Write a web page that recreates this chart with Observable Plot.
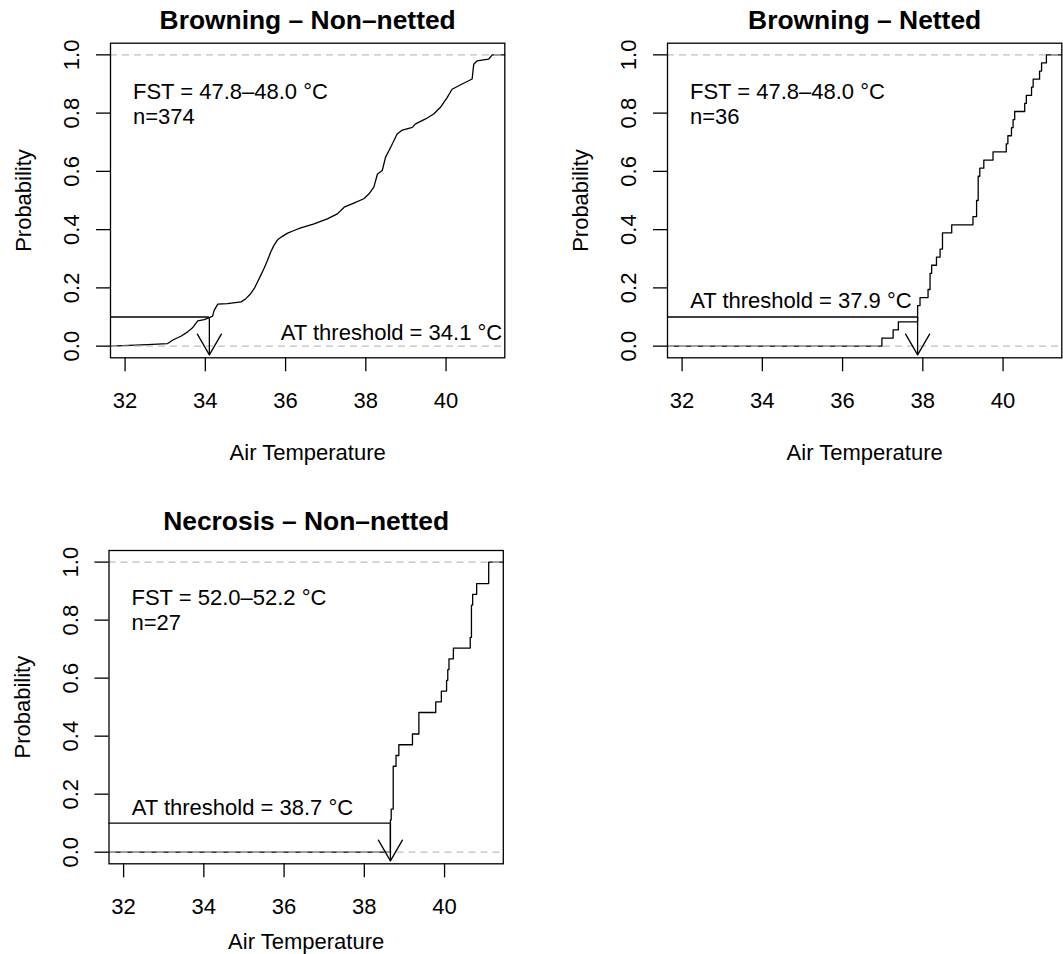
<!DOCTYPE html>
<html><head><meta charset="utf-8">
<script src="https://cdn.jsdelivr.net/npm/d3@7"></script>
<script src="https://cdn.jsdelivr.net/npm/@observablehq/plot@0.6"></script>
<style>
body{margin:0;background:#fff;}
#wrap{position:relative;width:1063px;height:954px;overflow:hidden;background:#fff;}
#wrap svg{position:absolute;}
</style></head><body><div id="wrap"></div>
<script>
// ---------- data ----------
const xTicks = [32, 34, 36, 38, 40];
const yTicks = [0, 0.2, 0.4, 0.6, 0.8, 1];
const yTickLabels = ["0.0", "0.2", "0.4", "0.6", "0.8", "1.0"];
const xLimits = [32, 41.1];
const yLimits = [0, 1];
const panelTitles = ["Browning – Non–netted", "Browning – Netted", "Necrosis – Non–netted"];
const fstLabels = ["FST = 47.8–48.0 °C", "FST = 47.8–48.0 °C", "FST = 52.0–52.2 °C"];
const nLabels = ["n=374", "n=36", "n=27"];
const thresholdLabels = ["AT threshold = 34.1 °C", "AT threshold = 37.9 °C", "AT threshold = 38.7 °C"];
const thresholdTemps = [34.10, 37.87, 38.65];
const thresholdProb = 0.1;
const arrowTipProb = -0.03;
const refLines = [0, 1];
const xLabel = "Air Temperature";
const yLabel = "Probability";

const browningNonNettedTemp = [32.56, 33.06, 33.19, 33.39, 33.56, 33.68, 33.81, 33.97, 34.10, 34.18, 34.22, 34.31, 34.55, 34.89, 35.01, 35.13, 35.22, 35.30, 35.38, 35.47, 35.55, 35.63, 35.71, 35.80, 35.92, 36.05, 36.21, 36.38, 36.71, 37.04, 37.29, 37.46, 37.70, 37.95, 38.08, 38.20, 38.29, 38.41, 38.49, 38.62, 38.78, 38.91, 39.16, 39.24, 39.49, 39.69, 39.86, 40.03, 40.15, 40.40, 40.65, 40.69, 40.77, 41.06, 41.15];
const browningNonNettedProb = [0.005, 0.009, 0.021, 0.034, 0.049, 0.063, 0.087, 0.091, 0.098, 0.103, 0.123, 0.144, 0.146, 0.152, 0.163, 0.180, 0.198, 0.220, 0.243, 0.269, 0.295, 0.323, 0.346, 0.365, 0.377, 0.388, 0.397, 0.406, 0.420, 0.437, 0.454, 0.477, 0.491, 0.506, 0.523, 0.546, 0.591, 0.603, 0.648, 0.683, 0.728, 0.742, 0.751, 0.763, 0.780, 0.797, 0.820, 0.854, 0.882, 0.900, 0.917, 0.968, 0.979, 0.985, 1.0];

// Browning – Netted (n=36): observed air temperatures
const browningNettedTemp = [36.98, 37.26, 37.39, 37.87, 37.87, 37.93, 38.13, 38.18, 38.18, 38.22, 38.34, 38.43, 38.49, 38.49, 38.72, 39.25, 39.34, 39.34, 39.38, 39.38, 39.38, 39.42, 39.52, 39.75, 40.08, 40.12, 40.21, 40.25, 40.29, 40.54, 40.58, 40.71, 40.75, 40.91, 40.96, 41.08];

// Necrosis – Non-netted (n=27): observed air temperatures
const necrosisNonNettedTemp = [38.65, 38.65, 38.65, 38.67, 38.72, 38.72, 38.72, 38.72, 38.79, 38.86, 39.20, 39.36, 39.36, 39.78, 39.92, 40.05, 40.08, 40.11, 40.22, 40.64, 40.67, 40.67, 40.67, 40.70, 40.80, 41.10, 41.10];

// ---------- layout ----------
const FONT = '"Liberation Sans", Arial, Helvetica, sans-serif';
const FS = 22;
const xPad = 0.04 * (xLimits[1] - xLimits[0]);
const yPad = 0.04 * (yLimits[1] - yLimits[0]);
const xd = [xLimits[0] - xPad, xLimits[1] + xPad];
const yd = [yLimits[0] - yPad, yLimits[1] + yPad];

const layouts = [
  {left: 0, top: 0, width: 531, height: 477, ml: 110, mr: 26.7, mt: 42.7, mb: 119.7, titleDy: -14.4, xlabDy: 102, atAnchor: "bottom-right", atDx: -2.6, atDy: -18, atText: "end", fstDy: 55.6, nDy: 80.6},
  {left: 557, top: 0, width: 506, height: 477, ml: 110, mr: 1.7, mt: 42.7, mb: 119.7, titleDy: -14.4, xlabDy: 102, atAnchor: "bottom-left", atDx: 22.7, atDy: -49.6, atText: "start", fstDy: 55.6, nDy: 80.6},
  {left: 0, top: 477, width: 531, height: 477, ml: 108.5, mr: 28.2, mt: 73, mb: 90.7, titleDy: -20.5, xlabDy: 85, atAnchor: "bottom-left", atDx: 22.7, atDy: -49.3, atText: "start", fstDy: 54, nDy: 79.3}
];

function ecdfPath(temps) {
  const s = temps.slice().sort(d3.ascending);
  const n = s.length;
  const pts = [{t: xd[0], p: 0}];
  s.forEach((t, i) => pts.push({t, p: (i + 1) / n}));
  pts.push({t: xd[1], p: 1});
  return pts;
}
function readPath(temps, probs) {
  const pts = [{t: xd[0], p: 0}];
  temps.forEach((t, i) => pts.push({t, p: probs[i]}));
  pts.push({t: xd[1], p: 1});
  return pts;
}

const paths = [
  {pts: readPath(browningNonNettedTemp, browningNonNettedProb), curve: "linear"},
  {pts: ecdfPath(browningNettedTemp), curve: "step-after"},
  {pts: ecdfPath(necrosisNonNettedTemp), curve: "step-after"}
];

const wrap = document.getElementById("wrap");

layouts.forEach((L, k) => {
  const kx = (L.width - L.ml - L.mr) / (xd[1] - xd[0]);
  const ky = (L.height - L.mt - L.mb) / (yd[1] - yd[0]);
  const thr = thresholdTemps[k];
  const wx = 12 / kx, wy = 20.8 / ky;
  const head = [
    {t: thr - wx, p: arrowTipProb + wy},
    {t: thr, p: arrowTipProb},
    {t: thr + wx, p: arrowTipProb + wy}
  ];
  const svg = Plot.plot({
    width: L.width,
    height: L.height,
    marginLeft: L.ml,
    marginRight: L.mr,
    marginTop: L.mt,
    marginBottom: L.mb,
    x: {domain: xd},
    y: {domain: yd},
    style: {fontFamily: FONT, fontSize: FS + "px", color: "#000", background: "transparent", overflow: "visible"},
    marks: [
      Plot.line(paths[k].pts, {x: "t", y: "p", curve: paths[k].curve, stroke: "#000", strokeWidth: 1.3}),
      Plot.ruleY(refLines, {stroke: "#bebebe", strokeWidth: 1.3, strokeDasharray: "7,5"}),
      Plot.ruleY([thresholdProb], {x1: xd[0], x2: thr, stroke: "#000", strokeWidth: 1.3}),
      Plot.link([thr], {x1: d => d, x2: d => d, y1: thresholdProb, y2: arrowTipProb, stroke: "#000", strokeWidth: 1.3}),
      Plot.line(head, {x: "t", y: "p", stroke: "#000", strokeWidth: 1.3}),
      Plot.frame({stroke: "#000", strokeWidth: 1.3}),
      Plot.axisX({ticks: xTicks, tickSize: 14, tickFormat: () => "", label: null, strokeWidth: 1.3}),
      Plot.axisY({ticks: yTicks, tickSize: 14, tickFormat: () => "", label: null, strokeWidth: 1.3}),
      Plot.text(xTicks, {x: d => d, frameAnchor: "bottom", dy: 50.4, lineAnchor: "bottom", textAnchor: "middle", text: d => String(d), fontSize: FS}),
      Plot.text(yTicks, {y: d => d, frameAnchor: "left", dx: -31.5, rotate: -90, lineAnchor: "bottom", textAnchor: "middle", text: (d, i) => yTickLabels[i], fontSize: FS}),
      Plot.text([xLabel], {frameAnchor: "bottom", dy: L.xlabDy, lineAnchor: "bottom", textAnchor: "middle", text: d => d, fontSize: FS}),
      Plot.text([yLabel], {frameAnchor: "left", dx: -79.5, rotate: -90, lineAnchor: "bottom", textAnchor: "middle", text: d => d, fontSize: FS}),
      Plot.text([panelTitles[k]], {frameAnchor: "top", dy: L.titleDy, lineAnchor: "bottom", textAnchor: "middle", text: d => d, fontSize: 26.4, fontWeight: "bold"}),
      Plot.text([fstLabels[k]], {frameAnchor: "top-left", dx: 22.5, dy: L.fstDy, lineAnchor: "bottom", textAnchor: "start", text: d => d, fontSize: FS}),
      Plot.text([nLabels[k]], {frameAnchor: "top-left", dx: 22.5, dy: L.nDy, lineAnchor: "bottom", textAnchor: "start", text: d => d, fontSize: FS}),
      Plot.text([thresholdLabels[k]], {frameAnchor: L.atAnchor, dx: L.atDx, dy: L.atDy, lineAnchor: "bottom", textAnchor: L.atText, text: d => d, fontSize: FS})
    ]
  });
  svg.style.left = L.left + "px";
  svg.style.top = L.top + "px";
  wrap.appendChild(svg);
});
</script>
</body></html>
